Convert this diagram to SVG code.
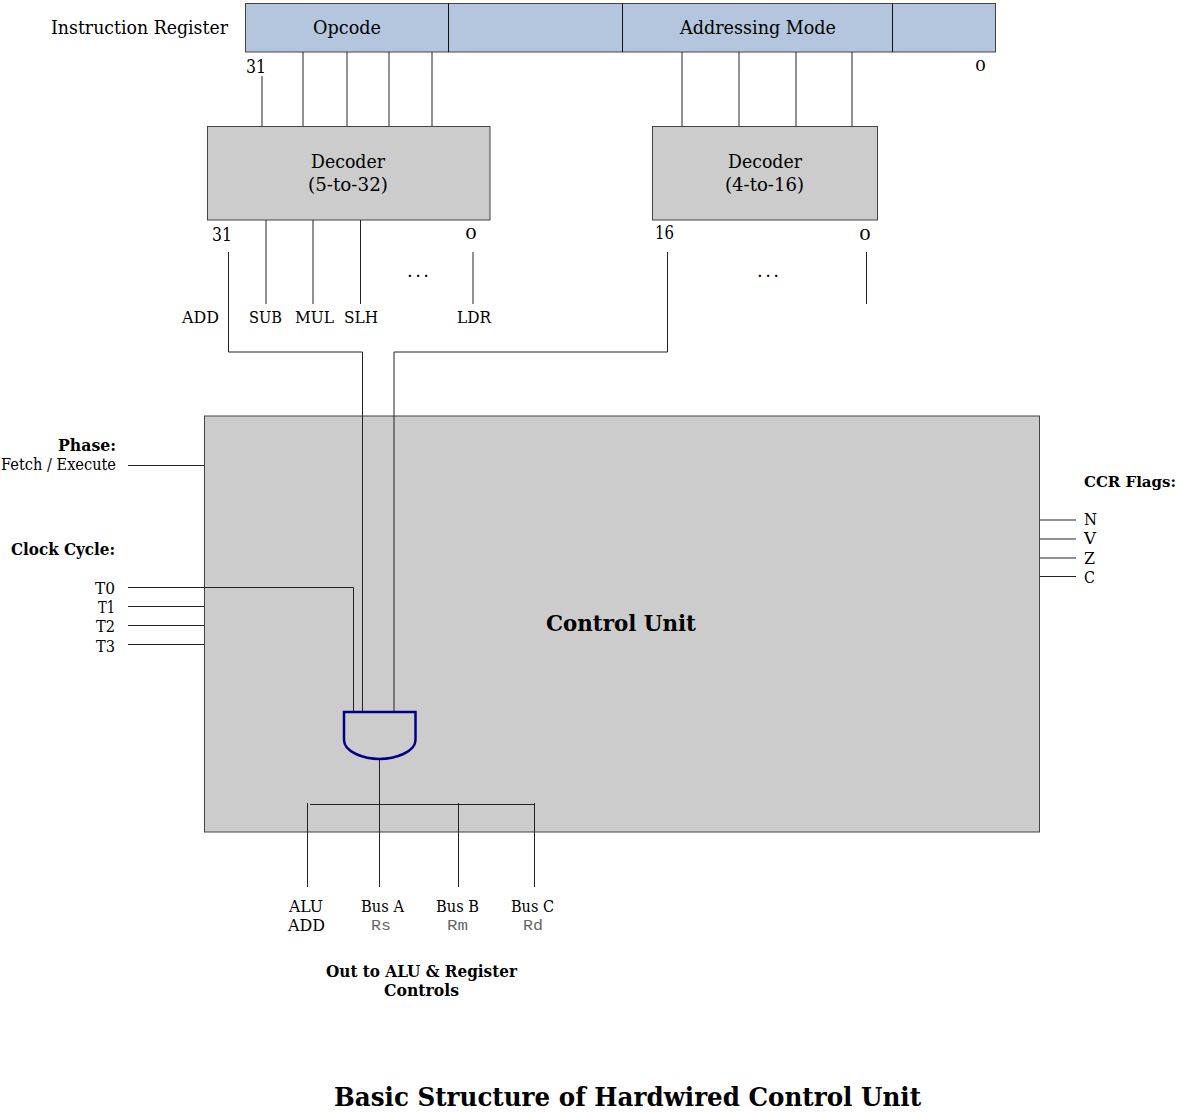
<svg xmlns="http://www.w3.org/2000/svg" width="1179" height="1112" viewBox="0 0 1179 1112">
<style>
text{font-family:"DejaVu Serif","Liberation Serif",serif;font-size:18px;fill:#000}
.b{font-weight:bold;font-size:17.500px}
.f{font-size:15.500px}
.cu{font-size:23px}
.title{font-size:26px}
.s{font-size:17px}
.z{font-size:14px}
.box{fill:#ccc;stroke:#444;stroke-width:1}
.reg{fill:#b3c6dd;stroke:#444;stroke-width:1}
.div{fill:none;stroke:#111;stroke-width:1}
.w{fill:none;stroke:#222;stroke-width:1}
.mono{font-family:"Liberation Mono",monospace;font-size:15px;fill:#666}
</style>
<rect width="1179" height="1112" fill="#fff"/>
<g id="instruction-register">
<rect class="reg" x="245.500" y="3.500" width="750" height="48.500"/>
<path class="div" d="M448.500 3.500V52M622.500 3.500V52M892.500 3.500V52"/>
<text x="51" y="34" textLength="177" lengthAdjust="spacingAndGlyphs">Instruction Register</text>
<text x="313" y="34" textLength="68" lengthAdjust="spacingAndGlyphs">Opcode</text>
<text x="680" y="34" textLength="156" lengthAdjust="spacingAndGlyphs">Addressing Mode</text>
<text x="246" y="73" textLength="20" lengthAdjust="spacingAndGlyphs">31</text>
<text class="z" x="975" y="71" textLength="11" lengthAdjust="spacingAndGlyphs">0</text>
</g>
<g id="decoder-5">
<rect class="box" x="207.500" y="126.500" width="282.500" height="93.500"/>
<text x="311" y="168" textLength="74" lengthAdjust="spacingAndGlyphs">Decoder</text>
<text x="308" y="191" textLength="80" lengthAdjust="spacingAndGlyphs">(5-to-32)</text>
</g>
<g id="decoder-4">
<rect class="box" x="652.500" y="126.500" width="225" height="93.500"/>
<text x="728" y="168" textLength="74" lengthAdjust="spacingAndGlyphs">Decoder</text>
<text x="725" y="191" textLength="79" lengthAdjust="spacingAndGlyphs">(4-to-16)</text>
</g>
<g id="control-unit">
<rect class="box" x="204.500" y="416" width="835" height="416"/>
<text x="546" y="631" class="b cu" textLength="150" lengthAdjust="spacingAndGlyphs">Control Unit</text>
</g>
<g id="and-gate">
<path d="M344 712H415.500V740C415.500 752 395 759 379.500 759C364 759 344 752 344 740Z" fill="#ccc" stroke="#00008b" stroke-width="2.500"/>
</g>
<g id="connectors">
<path class="w" d="M262 76V126M303 52V126M347 52V126M389 52V126M432 52V126M682 52V126M739 52V126M796 52V126M852 52V126"/>
<path class="w" d="M266 220V304M313 220V304M360.500 220V304M473 252V304M866.500 252V304"/>
<path class="w" d="M228.500 252V352H362.500V711M667.500 252V352H394V711"/>
<path class="w" d="M128 465.500H204M128 587.500H353.500V711M128 606.500H204M128 625.500H204M128 644.500H204"/>
<path class="w" d="M1040 520H1076M1040 539H1076M1040 558H1076M1040 576.500H1076"/>
<path class="w" d="M379.500 760V887M310 804.500H535M307.500 803V887M458.500 803V887M534.500 803V887"/>
</g>
<g id="labels">
<text x="212" y="241" textLength="20" lengthAdjust="spacingAndGlyphs">31</text>
<text class="z" x="465" y="239" textLength="12" lengthAdjust="spacingAndGlyphs">0</text>
<text x="655" y="239" textLength="19" lengthAdjust="spacingAndGlyphs">16</text>
<text class="z" x="859" y="240" textLength="12" lengthAdjust="spacingAndGlyphs">0</text>
<text x="407" y="277" textLength="22" lengthAdjust="spacing">...</text>
<text x="757" y="277" textLength="22" lengthAdjust="spacing">...</text>
<text class="s" x="182" y="323" textLength="37" lengthAdjust="spacingAndGlyphs">ADD</text>
<text class="s" x="249" y="323" textLength="33" lengthAdjust="spacingAndGlyphs">SUB</text>
<text class="s" x="295" y="323" textLength="39" lengthAdjust="spacingAndGlyphs">MUL</text>
<text class="s" x="344" y="323" textLength="34" lengthAdjust="spacingAndGlyphs">SLH</text>
<text class="s" x="457" y="323" textLength="34" lengthAdjust="spacingAndGlyphs">LDR</text>
<text class="b" x="58" y="451" textLength="58" lengthAdjust="spacingAndGlyphs">Phase:</text>
<text class="s" x="1" y="470" textLength="115" lengthAdjust="spacingAndGlyphs">Fetch / Execute</text>
<text class="b" x="11" y="555" textLength="104" lengthAdjust="spacingAndGlyphs">Clock Cycle:</text>
<text class="s" x="95" y="594" textLength="20" lengthAdjust="spacingAndGlyphs">T0</text>
<text class="s" x="98" y="613" textLength="17" lengthAdjust="spacingAndGlyphs">T1</text>
<text class="s" x="96" y="632" textLength="19" lengthAdjust="spacingAndGlyphs">T2</text>
<text class="s" x="96" y="652" textLength="19" lengthAdjust="spacingAndGlyphs">T3</text>
<text class="b f" x="1084" y="487" textLength="92" lengthAdjust="spacingAndGlyphs">CCR Flags:</text>
<text class="s" x="1084" y="525" textLength="13" lengthAdjust="spacingAndGlyphs">N</text>
<text class="s" x="1084" y="544" textLength="12" lengthAdjust="spacingAndGlyphs">V</text>
<text class="s" x="1084" y="564" textLength="11" lengthAdjust="spacingAndGlyphs">Z</text>
<text class="s" x="1084" y="583" textLength="11" lengthAdjust="spacingAndGlyphs">C</text>
<text class="s" x="289" y="912" textLength="34" lengthAdjust="spacingAndGlyphs">ALU</text>
<text class="s" x="288" y="931" textLength="37" lengthAdjust="spacingAndGlyphs">ADD</text>
<text class="s" x="361" y="912" textLength="43" lengthAdjust="spacingAndGlyphs">Bus A</text>
<text class="mono" x="371" y="930" textLength="20" lengthAdjust="spacingAndGlyphs">Rs</text>
<text class="s" x="436" y="912" textLength="43" lengthAdjust="spacingAndGlyphs">Bus B</text>
<text class="mono" x="447" y="930" textLength="21" lengthAdjust="spacingAndGlyphs">Rm</text>
<text class="s" x="511" y="912" textLength="43" lengthAdjust="spacingAndGlyphs">Bus C</text>
<text class="mono" x="523" y="930" textLength="20" lengthAdjust="spacingAndGlyphs">Rd</text>
<text class="b" x="326" y="977" textLength="191" lengthAdjust="spacingAndGlyphs">Out to ALU &amp; Register</text>
<text class="b" x="384" y="996" textLength="75" lengthAdjust="spacingAndGlyphs">Controls</text>
<text class="b title" x="334" y="1106" textLength="587" lengthAdjust="spacingAndGlyphs">Basic Structure of Hardwired Control Unit</text>
</g>
</svg>
